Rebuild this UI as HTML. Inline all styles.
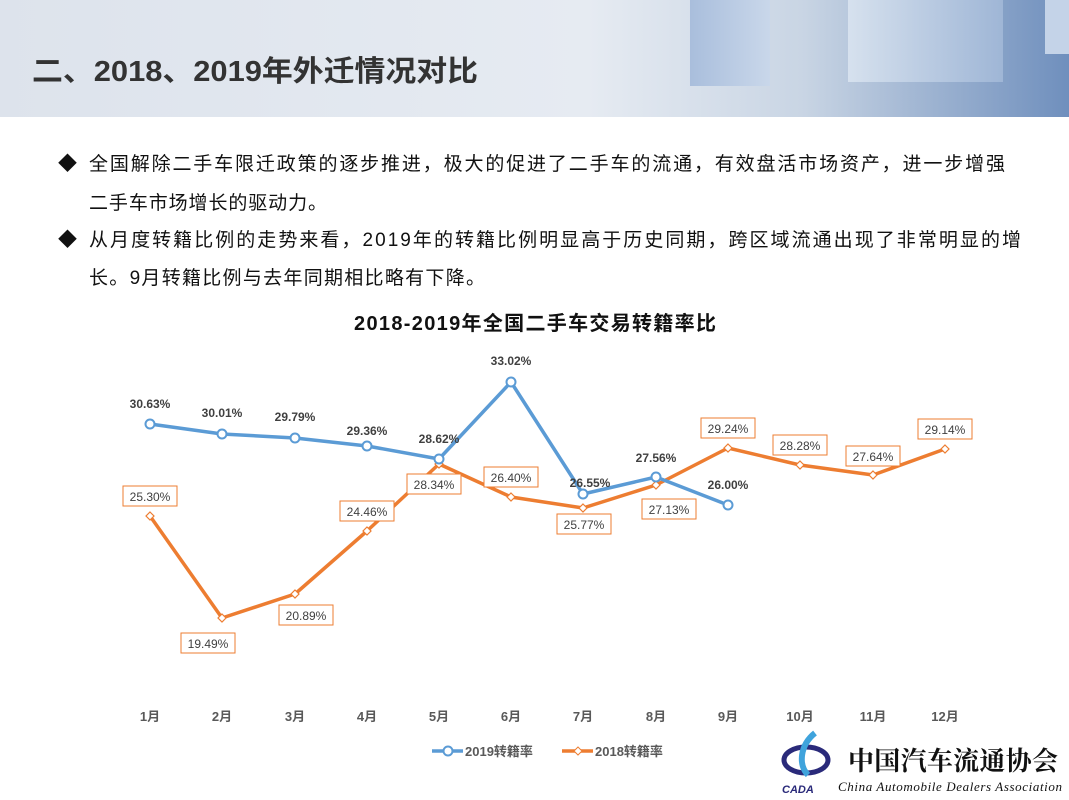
<!DOCTYPE html>
<html><head><meta charset="utf-8"><style>
body{margin:0;width:1069px;height:800px;overflow:hidden;background:#fff;font-family:"Liberation Sans","Noto Sans CJK SC",sans-serif;}
.hdr{position:absolute;left:0;top:0;width:1069px;height:117px;background:linear-gradient(90deg,#dde3ec 0%,#e6ebf2 55%,#c9d5e4 75%,#6f8fbd 100%);}
</style></head><body>
<div class="hdr"></div>
<svg width="1069" height="800" style="position:absolute;left:0;top:0" font-family="Liberation Sans, Noto Sans CJK SC, sans-serif">
<defs>
<linearGradient id="b1" x1="0" y1="0" x2="1" y2="0"><stop offset="0" stop-color="#a9bedc"/><stop offset="1" stop-color="#c9d7ea"/></linearGradient>
<linearGradient id="b2" x1="0" y1="0" x2="1" y2="0"><stop offset="0" stop-color="#d6e1ee"/><stop offset="1" stop-color="#9fb6d6"/></linearGradient>
</defs>
<rect x="690" y="0" width="80" height="86" fill="url(#b1)"/>
<rect x="848" y="0" width="155" height="82" fill="url(#b2)"/>
<rect x="1045" y="0" width="24" height="54" fill="#c4d3e8"/>
<text x="32" y="81" font-size="29" font-weight="bold" fill="#333" textLength="446" lengthAdjust="spacingAndGlyphs">二、2018、2019年外迁情况对比</text>
<g font-size="19" fill="#111">
<text x="58" y="170">◆</text><text x="89" y="170" textLength="916">全国解除二手车限迁政策的逐步推进，极大的促进了二手车的流通，有效盘活市场资产，进一步增强</text>
<text x="89" y="209" textLength="238">二手车市场增长的驱动力。</text>
<text x="58" y="246">◆</text><text x="89" y="246" textLength="932">从月度转籍比例的走势来看，2019年的转籍比例明显高于历史同期，跨区域流通出现了非常明显的增</text>
<text x="89" y="284" textLength="396">长。9月转籍比例与去年同期相比略有下降。</text>
</g>
<text x="354" y="330" font-size="20" font-weight="bold" fill="#111" textLength="362">2018-2019年全国二手车交易转籍率比</text>
<polyline fill="none" stroke="#ed7d31" stroke-width="3.5" stroke-linejoin="round" points="150,516 222,618 295,594 367,531 439,464 511,497 583,508 656,485 728,448 800,465 873,475 945,449"/>
<g fill="#fff" stroke="#ed7d31" stroke-width="1.2">
<path d="M150,512l4,4l-4,4l-4,-4z"/><path d="M222,614l4,4l-4,4l-4,-4z"/><path d="M295,590l4,4l-4,4l-4,-4z"/><path d="M367,527l4,4l-4,4l-4,-4z"/><path d="M439,460l4,4l-4,4l-4,-4z"/><path d="M511,493l4,4l-4,4l-4,-4z"/><path d="M583,504l4,4l-4,4l-4,-4z"/><path d="M656,481l4,4l-4,4l-4,-4z"/><path d="M728,444l4,4l-4,4l-4,-4z"/><path d="M800,461l4,4l-4,4l-4,-4z"/><path d="M873,471l4,4l-4,4l-4,-4z"/><path d="M945,445l4,4l-4,4l-4,-4z"/>
</g>
<polyline fill="none" stroke="#5b9bd5" stroke-width="3.5" stroke-linejoin="round" points="150,424 222,434 295,438 367,446 439,459 511,382 583,494 656,477 728,505"/>
<g fill="#fff" stroke="#5b9bd5" stroke-width="2">
<circle cx="150" cy="424" r="4.5"/><circle cx="222" cy="434" r="4.5"/><circle cx="295" cy="438" r="4.5"/><circle cx="367" cy="446" r="4.5"/><circle cx="439" cy="459" r="4.5"/><circle cx="511" cy="382" r="4.5"/><circle cx="583" cy="494" r="4.5"/><circle cx="656" cy="477" r="4.5"/><circle cx="728" cy="505" r="4.5"/>
</g>
<g font-size="12" font-weight="bold" fill="#404040" text-anchor="middle">
<text x="150" y="408">30.63%</text><text x="222" y="417">30.01%</text><text x="295" y="421">29.79%</text><text x="367" y="435">29.36%</text><text x="439" y="443">28.62%</text><text x="511" y="365">33.02%</text><text x="590" y="487">26.55%</text><text x="656" y="462">27.56%</text><text x="728" y="489">26.00%</text>
</g>
<g font-size="12" fill="#404040" text-anchor="middle">
<g fill="#fff" stroke="#ed7d31" stroke-width="1">
<rect x="123" y="486" width="54" height="20"/><rect x="181" y="633" width="54" height="20"/><rect x="279" y="605" width="54" height="20"/><rect x="340" y="501" width="54" height="20"/><rect x="407" y="474" width="54" height="20"/><rect x="484" y="467" width="54" height="20"/><rect x="557" y="514" width="54" height="20"/><rect x="642" y="499" width="54" height="20"/><rect x="701" y="418" width="54" height="20"/><rect x="773" y="435" width="54" height="20"/><rect x="846" y="446" width="54" height="20"/><rect x="918" y="419" width="54" height="20"/>
</g>
<text x="150" y="501">25.30%</text><text x="208" y="648">19.49%</text><text x="306" y="620">20.89%</text><text x="367" y="516">24.46%</text><text x="434" y="489">28.34%</text><text x="511" y="482">26.40%</text><text x="584" y="529">25.77%</text><text x="669" y="514">27.13%</text><text x="728" y="433">29.24%</text><text x="800" y="450">28.28%</text><text x="873" y="461">27.64%</text><text x="945" y="434">29.14%</text>
</g>
<g font-size="13" font-weight="bold" fill="#595959" text-anchor="middle">
<text x="150" y="721">1月</text><text x="222" y="721">2月</text><text x="295" y="721">3月</text><text x="367" y="721">4月</text><text x="439" y="721">5月</text><text x="511" y="721">6月</text><text x="583" y="721">7月</text><text x="656" y="721">8月</text><text x="728" y="721">9月</text><text x="800" y="721">10月</text><text x="873" y="721">11月</text><text x="945" y="721">12月</text>
</g>
<line x1="432" y1="751" x2="463" y2="751" stroke="#5b9bd5" stroke-width="3.5"/><circle cx="448" cy="751" r="4.5" fill="#fff" stroke="#5b9bd5" stroke-width="2"/>
<line x1="562" y1="751" x2="593" y2="751" stroke="#ed7d31" stroke-width="3.5"/><path d="M578,747l4,4l-4,4l-4,-4z" fill="#fff" stroke="#ed7d31"/>
<g font-size="13" font-weight="bold" fill="#595959"><text x="465" y="756">2019转籍率</text><text x="595" y="756">2018转籍率</text></g>
<ellipse cx="806" cy="760" rx="22" ry="13" fill="none" stroke="#2a2a7a" stroke-width="5"/>
<path d="M815,733 C800,745 798,765 808,775" stroke="#3fa3dc" stroke-width="6" fill="none"/>
<text x="782" y="793" font-size="11" font-weight="bold" font-style="italic" fill="#2a2a7a">CADA</text>
<text x="848" y="770" font-size="26" font-weight="bold" fill="#111" font-family="Noto Serif CJK SC, serif" textLength="210">中国汽车流通协会</text>
<text x="838" y="791" font-size="13" font-style="italic" fill="#111" font-family="Liberation Serif, serif" textLength="224">China Automobile Dealers Association</text>
</svg>
</body></html>
